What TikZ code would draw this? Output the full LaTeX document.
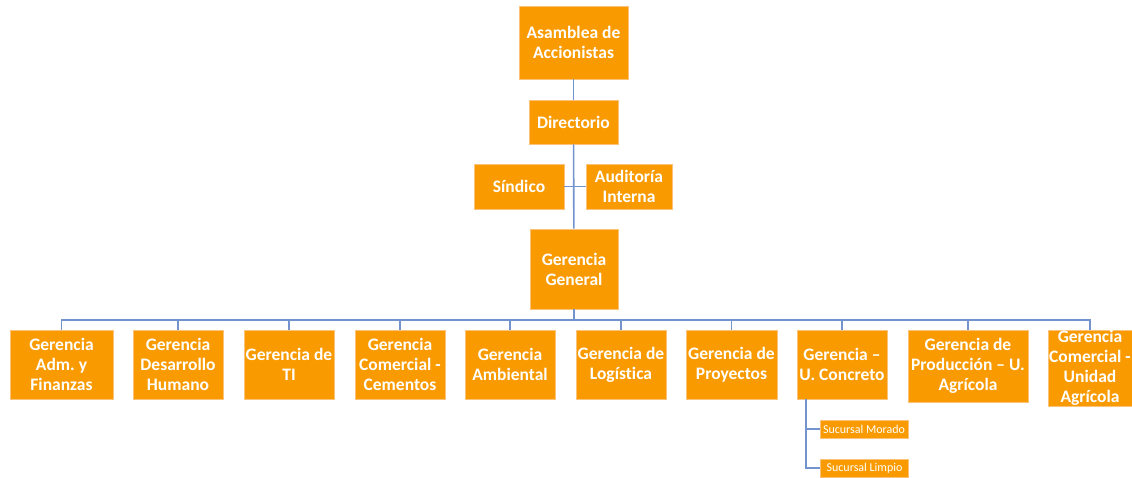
\documentclass[tikz,border=0pt]{standalone}
\usepackage{fontspec}
\setmainfont[Ligatures=NoCommon]{Carlito}
\frenchspacing
\definecolor{boxor}{HTML}{F99B00}
\definecolor{boxedge}{HTML}{FBC27A}
\definecolor{conn}{HTML}{7393CF}
\begin{document}
\begin{tikzpicture}[x=1pt,y=-1pt,
  box/.style={rectangle,fill=boxor,draw=boxedge,line width=0.8pt,text=white,
    font=\fontsize{17.5}{20}\selectfont\bfseries,align=center,inner sep=0pt},
  small/.style={rectangle,fill=boxor,draw=boxedge,line width=0.6pt,text=white,
    font=\fontsize{12}{13}\selectfont,inner sep=0pt,minimum width=88pt,minimum height=18pt},
  link/.style={draw=conn,line width=1.6pt}]
\useasboundingbox (0,0) rectangle (1132,478);
\node[box,minimum width=109pt,minimum height=73pt] (asam) at (573.5,42.5) {Asamblea de\\Accionistas};
\node[box,minimum width=89pt,minimum height=44pt] (dir) at (573.5,122) {Directorio};
\node[box,minimum width=90pt,minimum height=45pt] (sind) at (519,186.5) {Síndico};
\node[box,minimum width=86pt,minimum height=45pt] (aud) at (629,186.5) {Auditoría\\Interna};
\node[box,minimum width=88pt,minimum height=80pt] (gg) at (574,269) {Gerencia\\General};
\node[box,minimum width=103pt,minimum height=69pt] (b1) at (61.5,364.5) {Gerencia\\Adm. y\\Finanzas};
\node[box,minimum width=90pt,minimum height=69pt] (b2) at (178,364.5) {Gerencia\\Desarrollo\\Humano};
\node[box,minimum width=90pt,minimum height=69pt] (b3) at (289,364.5) {Gerencia de\\TI};
\node[box,minimum width=90pt,minimum height=69pt] (b4) at (400,364.5) {Gerencia\\Comercial -\\Cementos};
\node[box,minimum width=90pt,minimum height=69pt] (b5) at (510,364.5) {Gerencia\\Ambiental};
\node[box,minimum width=90pt,minimum height=69pt] (b6) at (621,364.5) {Gerencia de\\Logística};
\node[box,minimum width=91pt,minimum height=69pt] (b7) at (731.5,364.5) {Gerencia de\\Proyectos};
\node[box,minimum width=90pt,minimum height=69pt] (b8) at (842,364.5) {Gerencia –\\U. Concreto};
\node[box,minimum width=120pt,minimum height=72pt] (b9) at (968,366) {Gerencia de\\Producción – U.\\Agrícola};
\node[box,minimum width=84pt,minimum height=76pt] (b10) at (1090,368) {Gerencia\\Comercial -\\Unidad\\Agrícola};
\node[small] (sm) at (864,429) {Sucursal Morado};
\node[small] (sl) at (864.5,468) {Sucursal Limpio};
\coordinate (bus) at (0,320);
\coordinate (sx) at (806,0);
\path[link] (asam) -- (dir);
\path[link] (dir) -- (gg);
\path[link] (sind.east) -- (aud.west);
\path[link] (gg.south) -- (gg.south |- bus);
\path[link] (b1.north) -- (b1.north |- bus) -- (b10.north |- bus) -- (b10.north);
\foreach \b in {b2,b3,b4,b5,b6,b7,b8,b9}{\path[link] (\b.north) -- (\b.north |- bus);}
\path[link] (b8.south -| sx) |- (sm.west);
\path[link] (b8.south -| sx) |- (sl.west);
\end{tikzpicture}
\end{document}
